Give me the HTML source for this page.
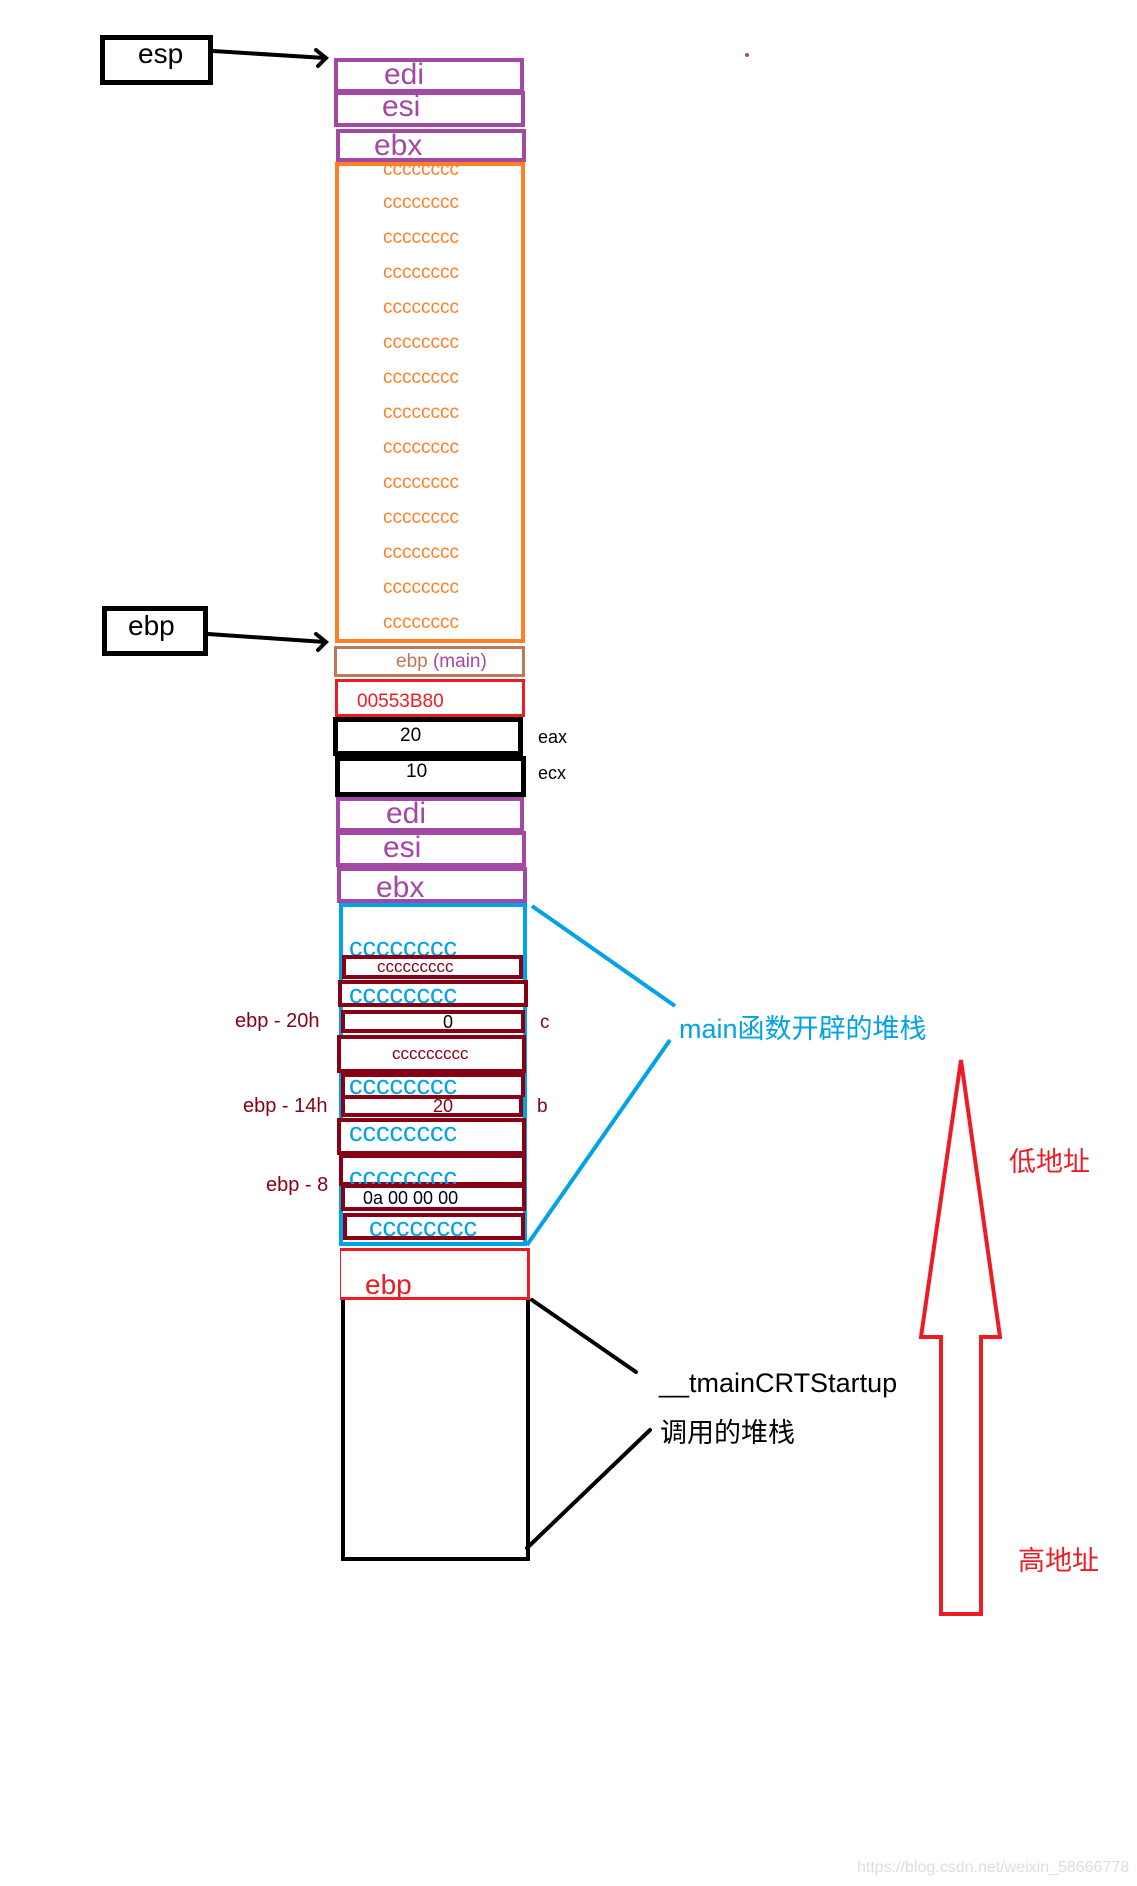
<!DOCTYPE html>
<html><head><meta charset="utf-8"><style>
body{margin:0;width:1137px;height:1886px;background:#fff;position:relative;overflow:hidden;font-family:"Liberation Sans","Noto Sans CJK SC",sans-serif}
.b{position:absolute;box-sizing:border-box;background:#fff}
.t{position:absolute;white-space:nowrap}
.o{color:#ff7f27;font-size:19px;left:383px}
</style></head><body>
<svg width="1137" height="1886" style="position:absolute;left:0;top:0">
<g stroke="#000" stroke-width="4" fill="none" stroke-linecap="round">
<line x1="213" y1="51" x2="325" y2="58"/><polyline points="316,50 326,58 318,66"/>
<line x1="208" y1="634" x2="325" y2="642"/><polyline points="316,634 326,642 318,650"/>
<line x1="532" y1="1300" x2="636" y2="1372"/><line x1="650" y1="1430" x2="527" y2="1548"/>
</g>
<g stroke="#00a2e8" stroke-width="4"><line x1="532" y1="906" x2="675" y2="1006"/><line x1="670" y1="1040" x2="527" y2="1245"/></g>
<polygon points="961,1060 1000,1337 981,1337 981,1614 941,1614 941,1337 921,1337" fill="none" stroke="#ed1c24" stroke-width="4"/>
<circle cx="747" cy="55" r="2" fill="#a349a4"/>
</svg>
<div class="b" style="left:100px;top:35px;width:113px;height:50px;border:5px solid #000"></div>
<div class="t" style="left:138px;top:36px;font-size:28px;line-height:36px">esp</div>
<div class="b" style="left:102px;top:606px;width:106px;height:50px;border:5px solid #000"></div>
<div class="t" style="left:128px;top:608px;font-size:28px;line-height:36px">ebp</div>

<div class="b" style="left:334px;top:58px;width:190px;height:35px;border:4px solid #a349a4"></div>
<div class="t" style="left:384px;top:58px;font-size:30px;line-height:34px;color:#a349a4">edi</div>
<div class="b" style="left:334px;top:91px;width:191px;height:36px;border:4px solid #a349a4"></div>
<div class="t" style="left:382px;top:90px;font-size:30px;line-height:34px;color:#a349a4">esi</div>
<div class="b" style="left:336px;top:129px;width:190px;height:33px;border:4px solid #a349a4;background:none"></div>
<div class="t" style="left:374px;top:128px;font-size:30px;line-height:36px;color:#a349a4">ebx</div>
<div class="b" style="left:335px;top:162px;width:190px;height:481px;border:4px solid #ff7f27;background:none"></div>
<div class="t o" style="top:158px;line-height:24px">cccccccc</div>
<div class="t o" style="top:192px">cccccccc</div><div class="t o" style="top:227px">cccccccc</div>
<div class="t o" style="top:262px">cccccccc</div><div class="t o" style="top:297px">cccccccc</div>
<div class="t o" style="top:332px">cccccccc</div><div class="t o" style="top:367px">cccccccc</div>
<div class="t o" style="top:402px">cccccccc</div><div class="t o" style="top:437px">cccccccc</div>
<div class="t o" style="top:472px">cccccccc</div><div class="t o" style="top:507px">cccccccc</div>
<div class="t o" style="top:542px">cccccccc</div><div class="t o" style="top:577px">cccccccc</div>
<div class="t o" style="top:612px">cccccccc</div>

<div class="b" style="left:334px;top:646px;width:191px;height:31px;border:3px solid #b97a57"></div>
<div class="t" style="left:396px;top:650px;font-size:19px;line-height:24px"><span style="color:#b97a57">ebp</span> <span style="color:#a349a4">(main)</span></div>
<div class="b" style="left:335px;top:679px;width:190px;height:38px;border:3px solid #ed1c24"></div>
<div class="t" style="left:357px;top:690px;font-size:19px;line-height:24px;color:#ed1c24">00553B80</div>
<div class="b" style="left:333px;top:717px;width:190px;height:39px;border:5px solid #000"></div>
<div class="t" style="left:400px;top:724px;font-size:19px;line-height:24px">20</div>
<div class="t" style="left:538px;top:725px;font-size:18px;line-height:24px">eax</div>
<div class="b" style="left:335px;top:756px;width:191px;height:41px;border:5px solid #000"></div>
<div class="t" style="left:406px;top:760px;font-size:19px;line-height:24px">10</div>
<div class="t" style="left:538px;top:761px;font-size:18px;line-height:24px">ecx</div>

<div class="b" style="left:336px;top:797px;width:188px;height:35px;border:4px solid #a349a4"></div>
<div class="t" style="left:386px;top:797px;font-size:30px;line-height:34px;color:#a349a4">edi</div>
<div class="b" style="left:336px;top:831px;width:190px;height:36px;border:4px solid #a349a4"></div>
<div class="t" style="left:383px;top:831px;font-size:30px;line-height:34px;color:#a349a4">esi</div>
<div class="b" style="left:337px;top:867px;width:190px;height:36px;border:4px solid #a349a4;background:none"></div>
<div class="t" style="left:376px;top:870px;font-size:30px;line-height:36px;color:#a349a4">ebx</div>

<div class="b" style="left:339px;top:903px;width:188px;height:343px;border:4px solid #00a2e8;background:none"></div>
<div class="t" style="left:349px;top:932px;font-size:27px;line-height:30px;color:#00a2e8">cccccccc</div>
<div class="b" style="left:342px;top:955px;width:181px;height:24px;border:4px solid #880015"></div>
<div class="t" style="left:377px;top:955px;font-size:17px;line-height:24px;color:#880015">ccccccccc</div>
<div class="b" style="left:338px;top:980px;width:190px;height:27px;border:4px solid #880015"></div>
<div class="t" style="left:349px;top:979px;font-size:27px;line-height:30px;color:#00a2e8">cccccccc</div>
<div class="b" style="left:341px;top:1010px;width:184px;height:23px;border:4px solid #880015"></div>
<div class="t" style="left:443px;top:1010px;font-size:18px;line-height:24px">0</div>
<div class="t" style="left:235px;top:1009px;font-size:20px;line-height:24px;color:#880015">ebp - 20h</div>
<div class="t" style="left:540px;top:1011px;font-size:19px;line-height:24px;color:#880015">c</div>
<div class="b" style="left:337px;top:1035px;width:189px;height:38px;border:4px solid #880015"></div>
<div class="t" style="left:392px;top:1042px;font-size:17px;line-height:24px;color:#880015">ccccccccc</div>
<div class="b" style="left:341px;top:1073px;width:184px;height:24px;border:4px solid #880015;border-bottom:0"></div>
<div class="t" style="left:349px;top:1070px;font-size:27px;line-height:30px;color:#00a2e8">cccccccc</div>
<div class="b" style="left:341px;top:1095px;width:182px;height:22px;border:4px solid #880015"></div>
<div class="t" style="left:433px;top:1095px;font-size:18px;line-height:22px;color:#880015">20</div>
<div class="t" style="left:243px;top:1094px;font-size:20px;line-height:24px;color:#880015">ebp - 14h</div>
<div class="t" style="left:537px;top:1095px;font-size:19px;line-height:24px;color:#880015">b</div>
<div class="b" style="left:337px;top:1118px;width:189px;height:37px;border:4px solid #880015"></div>
<div class="t" style="left:349px;top:1117px;font-size:27px;line-height:30px;color:#00a2e8">cccccccc</div>
<div class="b" style="left:339px;top:1154px;width:187px;height:32px;border:4px solid #880015"></div>
<div class="t" style="left:349px;top:1162px;font-size:27px;line-height:30px;color:#00a2e8;height:22px;overflow:hidden">cccccccc</div>
<div class="t" style="left:266px;top:1173px;font-size:20px;line-height:24px;color:#880015">ebp - 8</div>
<div class="b" style="left:341px;top:1184px;width:185px;height:27px;border:4px solid #880015"></div>
<div class="t" style="left:363px;top:1186px;font-size:18px;line-height:24px">0a 00 00 00</div>
<div class="b" style="left:343px;top:1213px;width:182px;height:27px;border:4px solid #880015"></div>
<div class="t" style="left:369px;top:1212px;font-size:27px;line-height:30px;color:#00a2e8">cccccccc</div>

<div class="b" style="left:340px;top:1248px;width:190px;height:52px;border:3px solid #ed1c24;border-left-width:1px"></div>
<div class="t" style="left:365px;top:1268px;font-size:28px;line-height:34px;color:#ed1c24">ebp</div>
<div class="b" style="left:341px;top:1300px;width:189px;height:261px;border:4px solid #000;border-top:0;background:none"></div>

<div class="t" style="left:679px;top:1012px;font-size:27px;line-height:34px;color:#00a2e8">main函数开辟的堆栈</div>
<div class="t" style="left:659px;top:1366px;font-size:27px;line-height:34px">__tmainCRTStartup</div>
<div class="t" style="left:660px;top:1416px;font-size:27px;line-height:34px">调用的堆栈</div>
<div class="t" style="left:1009px;top:1145px;font-size:27px;line-height:34px;color:#ed1c24">低地址</div>
<div class="t" style="left:1018px;top:1544px;font-size:27px;line-height:34px;color:#ed1c24">高地址</div>
<div class="t" style="left:857px;top:1858px;font-size:16px;line-height:20px;color:#ddd">https://blog.csdn.net/weixin_58666778</div>
</body></html>
